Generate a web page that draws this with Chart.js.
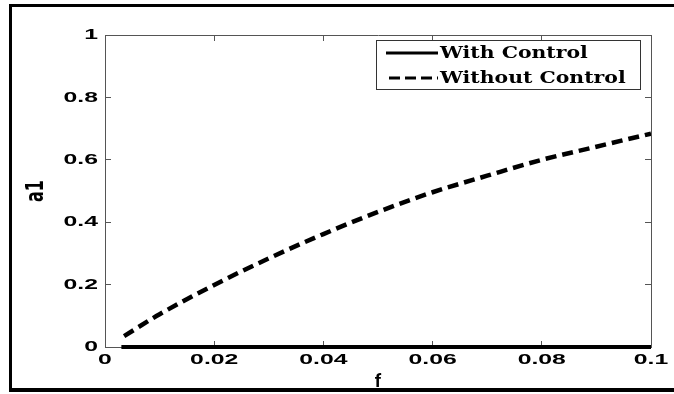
<!DOCTYPE html>
<html>
<head>
<meta charset="utf-8">
<script src="https://cdn.jsdelivr.net/npm/chart.js@4/dist/chart.umd.min.js"></script>
<style>
  body { margin: 0; background: #fff; }
  #wrap { width: 674px; height: 394px; }
</style>
</head>
<body>
<div id="wrap"><canvas id="lineChart" width="674" height="394"></canvas></div>
<script>
// values
const fValues = [0.0035, 0.01, 0.02, 0.03, 0.04, 0.05, 0.06, 0.07, 0.08, 0.09, 0.1];
const withoutControl = [0.035, 0.105, 0.199, 0.284, 0.362, 0.433, 0.496, 0.549, 0.600, 0.642, 0.684];
const controlF = [0.003, 0.1];
const withControl = [0, 0];

const xTicks = [0, 0.02, 0.04, 0.06, 0.08, 0.1];
const xTickLabels = ['0', '0.02', '0.04', '0.06', '0.08', '0.1'];
const yTicks = [0, 0.2, 0.4, 0.6, 0.8, 1];
const yTickLabels = ['0', '0.2', '0.4', '0.6', '0.8', '1'];

// the source image is squashed, so its text is wider than normal
const textStretch = [['Liberation Sans', 1.65], ['DejaVu Serif', 1.2], ['DejaVu Sans', 1.5]];

function stretchFor(font) {
    for (const [fam, s] of textStretch) {
        if (font.includes(fam)) return s;
    }
    return 1;
}

const wideText = {
    id: 'wideText',
    beforeDraw(chart) {
        const plain = CanvasRenderingContext2D.prototype.fillText;
        chart.ctx.fillText = function (text, x, y) {
            const s = stretchFor(this.font);
            if (s === 1) return plain.call(this, text, x, y);
            const m = this.getTransform();
            const p = m.transformPoint(new DOMPoint(x, y));
            this.save();
            this.setTransform(new DOMMatrix().translate(p.x, p.y).scale(s, 1).translate(-p.x, -p.y).multiply(m));
            plain.call(this, text, x, y);
            this.restore();
        };
    },
    afterDraw(chart) {
        delete chart.ctx.fillText;
    }
};

const frame = {
    id: 'frame',
    afterDraw(chart) {
        const ctx = chart.ctx;
        ctx.save();
        ctx.fillStyle = '#000';
        ctx.fillRect(9, 4, 665, 3);
        ctx.fillRect(9, 4, 3, 388);
        ctx.fillRect(9, 388, 665, 4);
        ctx.restore();
    }
};

const boxLegend = {
    id: 'boxLegend',
    afterDatasetsDraw(chart) {
        const ctx = chart.ctx;
        ctx.save();
        ctx.fillStyle = '#fff';
        ctx.fillRect(376.5, 40.5, 264, 49);
        ctx.strokeStyle = '#333';
        ctx.lineWidth = 1;
        ctx.strokeRect(376.5, 40.5, 264, 49);
        chart.data.datasets.forEach((ds, i) => {
            const y = 53 + i * 25;
            ctx.beginPath();
            ctx.setLineDash(ds.borderDash ? [11, 5] : []);
            ctx.lineWidth = 3;
            ctx.strokeStyle = ds.borderColor;
            ctx.moveTo(ds.borderDash ? 389 : 386, y);
            ctx.lineTo(438, y);
            ctx.stroke();
            ctx.setLineDash([]);
            ctx.font = "bold 17px 'DejaVu Serif'";
            ctx.fillStyle = '#000';
            ctx.textBaseline = 'middle';
            ctx.textAlign = 'left';
            ctx.fillText(ds.label, 440, y + 1);
        });
        ctx.restore();
    }
};

function fixedTicks(list) {
    return function (scale) {
        scale.ticks = list.map(v => ({ value: v }));
    };
}

const tickFont = { family: "'Liberation Sans'", size: 15, weight: 'bold' };
const boxGrid = { drawOnChartArea: false, tickLength: -6, color: '#555', lineWidth: 1 };
const boxBorder = { color: '#555', width: 1 };

var ctx = document.getElementById('lineChart').getContext('2d');
var lineChart = new Chart(ctx, {
    type: 'line',
    data: {
        datasets: [{
            label: 'With Control',
            data: controlF.map((f, i) => ({ x: f, y: withControl[i] })),
            borderColor: '#000',
            borderWidth: 4,
            pointRadius: 0,
            clip: false
        }, {
            label: 'Without Control',
            data: fValues.map((f, i) => ({ x: f, y: withoutControl[i] })),
            borderColor: '#000',
            borderWidth: 4.5,
            borderDash: [11, 6],
            pointRadius: 0,
            cubicInterpolationMode: 'monotone'
        }]
    },
    options: {
        responsive: false,
        animation: false,
        layout: { padding: { left: 0, right: 23, top: 35, bottom: 0 } },
        plugins: {
            legend: { display: false },
            tooltip: { enabled: false }
        },
        scales: {
            x: {
                type: 'linear',
                position: 'bottom',
                min: 0,
                max: 0.1,
                afterBuildTicks: fixedTicks(xTicks),
                afterFit(scale) { scale.height = 47; },
                ticks: {
                    color: '#000',
                    font: tickFont,
                    padding: 10,
                    maxRotation: 0,
                    autoSkip: false,
                    callback: (v, i) => xTickLabels[i]
                },
                grid: boxGrid,
                border: boxBorder,
                title: {
                    display: true,
                    text: 'f',
                    color: '#000',
                    font: { family: 'Roboto', size: 18, weight: 'bold' },
                    padding: { top: 0, bottom: 1 }
                }
            },
            x2: {
                type: 'linear',
                position: 'top',
                min: 0,
                max: 0.1,
                afterBuildTicks: fixedTicks(xTicks),
                afterFit(scale) { scale.height = 0; },
                ticks: { display: false },
                grid: boxGrid,
                border: boxBorder
            },
            y: {
                position: 'left',
                min: 0,
                max: 1,
                afterBuildTicks: fixedTicks(yTicks),
                afterFit(scale) { scale.width = 105; },
                ticks: {
                    color: '#000',
                    font: tickFont,
                    padding: 13,
                    callback: (v, i) => yTickLabels[i]
                },
                grid: boxGrid,
                border: boxBorder,
                title: {
                    display: true,
                    text: 'a1',
                    color: '#000',
                    font: { family: "'DejaVu Sans'", size: 16, weight: 'bold' },
                    padding: { top: 27, bottom: 0 }
                }
            },
            y2: {
                position: 'right',
                min: 0,
                max: 1,
                afterBuildTicks: fixedTicks(yTicks),
                afterFit(scale) { scale.width = 0; },
                ticks: { display: false },
                grid: boxGrid,
                border: boxBorder
            }
        }
    },
    plugins: [boxLegend, frame, wideText]
});
</script>
</body>
</html>
